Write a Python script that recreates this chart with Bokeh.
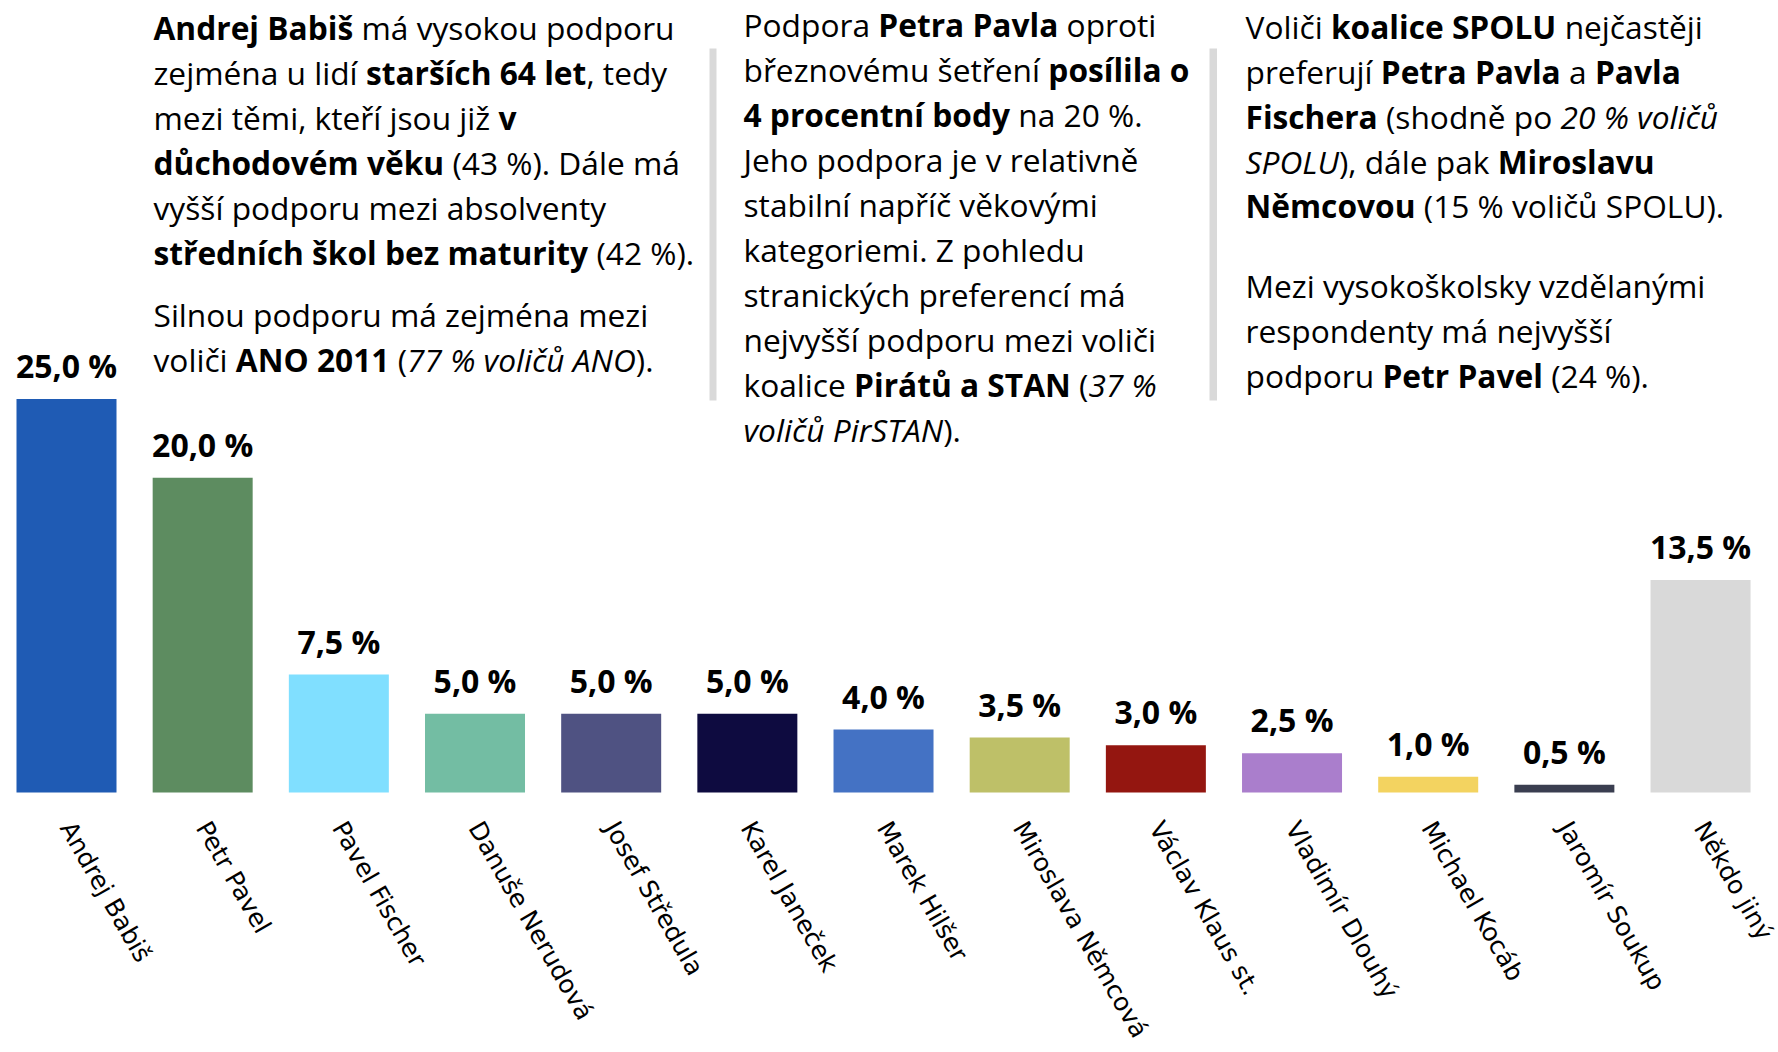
import os
import glob
import subprocess

from bokeh.plotting import figure
from bokeh.models import Range1d, ColumnDataSource
from bokeh.core.properties import value
from bokeh.embed import file_html
from bokeh.resources import INLINE

# ---------------- data ----------------
candidates = ["Andrej Babiš", "Petr Pavel", "Pavel Fischer", "Danuše Nerudová",
              "Josef Středula", "Karel Janeček", "Marek Hilšer", "Miroslava Němcová",
              "Václav Klaus st.", "Vladimír Dlouhý", "Michael Kocáb", "Jaromír Soukup",
              "Někdo jiný"]
support = [25.0, 20.0, 7.5, 5.0, 5.0, 5.0, 4.0, 3.5, 3.0, 2.5, 1.0, 0.5, 13.5]
bar_colors = ["#1f5bb4", "#5d8c60", "#80dfff", "#73bda3", "#4f5282", "#0e0b40",
              "#4472c4", "#bec068", "#941610", "#aa7ecc", "#f3d360", "#3a3e50",
              "#d9d9d9"]
value_labels = [f"{v:.1f}".replace(".", ",") + " %" for v in support]

# commentary text: lines made of (style, text) runs
text_block_1 = [
    [("bold", "Andrej Babiš"), ("normal", " má vysokou podporu")],
    [("normal", "zejména u lidí "), ("bold", "starších 64 let"), ("normal", ", tedy")],
    [("normal", "mezi těmi, kteří jsou již "), ("bold", "v")],
    [("bold", "důchodovém věku"), ("normal", " (43 %). Dále má")],
    [("normal", "vyšší podporu mezi absolventy")],
    [("bold", "středních škol bez maturity"), ("normal", " (42 %).")],
    [("normal", "Silnou podporu má zejména mezi")],
    [("normal", "voliči "), ("bold", "ANO 2011"), ("normal", " ("), ("italic", "77 % voličů ANO"), ("normal", ").")],
]
text_block_2 = [
    [("normal", "Podpora "), ("bold", "Petra Pavla"), ("normal", " oproti")],
    [("normal", "březnovému šetření "), ("bold", "posílila o")],
    [("bold", "4 procentní body"), ("normal", " na 20 %.")],
    [("normal", "Jeho podpora je v relativně")],
    [("normal", "stabilní napříč věkovými")],
    [("normal", "kategoriemi. Z pohledu")],
    [("normal", "stranických preferencí má")],
    [("normal", "nejvyšší podporu mezi voliči")],
    [("normal", "koalice "), ("bold", "Pirátů a STAN"), ("normal", " ("), ("italic", "37 %")],
    [("italic", "voličů PirSTAN"), ("normal", ").")],
]
text_block_3 = [
    [("normal", "Voliči "), ("bold", "koalice SPOLU"), ("normal", " nejčastěji")],
    [("normal", "preferují "), ("bold", "Petra Pavla"), ("normal", " a "), ("bold", "Pavla")],
    [("bold", "Fischera"), ("normal", " (shodně po "), ("italic", "20 % voličů")],
    [("italic", "SPOLU"), ("normal", "), dále pak "), ("bold", "Miroslavu")],
    [("bold", "Němcovou"), ("normal", " (15 % voličů SPOLU).")],
    [("normal", "Mezi vysokoškolsky vzdělanými")],
    [("normal", "respondenty má nejvyšší")],
    [("normal", "podporu "), ("bold", "Petr Pavel"), ("normal", " (24 %).")],
]

# ---------------- layout (canvas pixels) ----------------
W, H = 1778, 1050
BASE_PX = 792           # canvas y of the bars' base line
PITCH = 136.17          # px between bar centres
FIRST_CX = 66.0         # canvas x of first bar centre
BAR_W = 100.0
YK = 15.74              # px per percentage point
PARA_FONT = "Open Sans"
PARA_PX = 31.7
VAL_PX = 32
LABEL_GAP = 22.0        # bar top -> label baseline
BFIX = 0.355            # baseline correction (em)
CAT_FONT = "DejaVu Sans"
CAT_PX = 25
CAT_ANGLE = -1.05
CAT_DROP = 31.0         # bar base -> category label anchor

x_start = -FIRST_CX / PITCH
x_end = x_start + W / PITCH
y_end = BASE_PX / YK
y_start = y_end - H / YK


def dx(cx):
    return x_start + cx / PITCH


def dy(cy):
    return y_end - cy / YK


# ---------------- font measurement ----------------
def _norm(s):
    return s.lower().replace(" ", "").replace("-", "").replace("_", "")


def find_font_file(family, style):
    key = _norm(family)
    try:
        r = subprocess.run(["fc-match", "-f", "%{file}", f"{family}:style={style}"],
                           capture_output=True, text=True, timeout=10)
        f = r.stdout.strip()
        if f and os.path.exists(f) and key in _norm(os.path.basename(f)):
            return f
    except Exception:
        pass
    files = []
    for root in ["/usr/share/fonts", "/usr/local/share/fonts",
                 os.path.expanduser("~/.fonts"), os.path.expanduser("~/.local/share/fonts")]:
        files += glob.glob(os.path.join(root, "**", "*.ttf"), recursive=True)
        files += glob.glob(os.path.join(root, "**", "*.otf"), recursive=True)
    cands = [f for f in files if _norm(os.path.basename(f)).startswith(key)]
    if not cands:
        return None
    bad_common = ["semi", "extra", "condensed", "light", "medium", "black", "thin"]

    def score(f):
        b = os.path.basename(f).lower()
        s = 0
        for w in bad_common:
            if w in b:
                s -= 5
        if style == "Regular":
            if "bold" in b or "italic" in b:
                s -= 5
            if "regular" in b:
                s += 3
        elif style == "Bold":
            if "italic" in b:
                s -= 5
            if "bold" in b:
                s += 3
        else:
            if "bold" in b:
                s -= 5
            if "italic" in b:
                s += 3
        return s
    cands.sort(key=score, reverse=True)
    return cands[0]


class Measurer:
    def __init__(self, family, px):
        self.px = px
        self.fonts = {}
        try:
            from PIL import ImageFont
        except Exception:
            ImageFont = None
        for key, style in [("normal", "Regular"), ("bold", "Bold"), ("italic", "Italic")]:
            font = None
            f = find_font_file(family, style)
            if f and ImageFont is not None:
                try:
                    font = ImageFont.truetype(f, 200)
                    try:
                        names = font.get_variation_names()
                        want = style.encode()
                        for n in names:
                            nn = n if isinstance(n, bytes) else n.encode()
                            if nn == want:
                                font.set_variation_by_name(n)
                                break
                    except Exception:
                        pass
                except Exception:
                    font = None
            self.fonts[key] = font

    def width(self, text, style):
        if not text:
            return 0.0
        font = self.fonts.get(style)
        if font is not None:
            return font.getlength(text) * self.px / 200.0
        return len(text) * self.px * (0.60 if style == "bold" else 0.55)


M = Measurer(PARA_FONT, PARA_PX)

blocks = [
    (153, [38, 83, 128, 173, 218, 263, 325, 370], text_block_1),
    (743, [35, 80, 125, 170, 215, 260, 305, 350, 395, 440], text_block_2),
    (1245, [37.5, 82.5, 127, 172, 216.5, 296, 341, 386], text_block_3),
]

runs = {s: {"x": [], "y": [], "text": []} for s in ("normal", "bold", "italic")}
for left, baselines, lines in blocks:
    for base, line in zip(baselines, lines):
        cur = 0.0
        for style, txt in line:
            stripped = txt.strip(" ")
            if stripped:
                lead = len(txt) - len(txt.lstrip(" "))
                off = cur + M.width(txt[:lead], style)
                runs[style]["x"].append(dx(left + off))
                runs[style]["y"].append(dy(base - BFIX * PARA_PX))
                runs[style]["text"].append(stripped)
            cur += M.width(txt, style)

# ---------------- figure ----------------
p = figure(width=W, height=H, x_range=Range1d(x_start, x_end), y_range=Range1d(y_start, y_end),
           output_backend="svg", toolbar_location=None, x_axis_location=None,
           y_axis_location=None, min_border=0)
p.xgrid.visible = False
p.ygrid.visible = False
p.outline_line_color = None
p.background_fill_color = "white"
p.border_fill_color = "white"

xs = list(range(len(candidates)))
src = ColumnDataSource(dict(
    x=xs, top=support, color=bar_colors, label=value_labels, name=candidates,
    label_y=[v + (LABEL_GAP + BFIX * VAL_PX) / YK for v in support],
    name_y=[-CAT_DROP / YK] * len(xs),
))
p.vbar(x="x", top="top", bottom=0, width=BAR_W / PITCH, fill_color="color",
       line_color=None, source=src)
p.text(x="x", y="label_y", text="label", source=src, text_align="center",
       text_baseline="alphabetic", text_font=value(PARA_FONT), text_font_style="bold",
       text_font_size=f"{VAL_PX}px", text_color="black")

# category names (rotated, below the bars)
p.text(x="x", y="name_y", text="name", source=src, angle=CAT_ANGLE, text_align="left",
       text_baseline="middle", text_font=value(CAT_FONT), text_font_size=f"{CAT_PX}px",
       text_color="black")

for style, d in runs.items():
    p.text(x=d["x"], y=d["y"], text=d["text"], text_align="left", text_baseline="alphabetic",
           text_font=value(PARA_FONT), text_font_style=style, text_font_size=f"{PARA_PX}px",
           text_color="black")

# grey separators
p.quad(left=[dx(709), dx(1209)], right=[dx(716), dx(1216.5)],
       top=[dy(48), dy(48)], bottom=[dy(400), dy(400)], fill_color="#d9d9d9", line_color=None)

open("out.html", "w").write(file_html(p, INLINE))
